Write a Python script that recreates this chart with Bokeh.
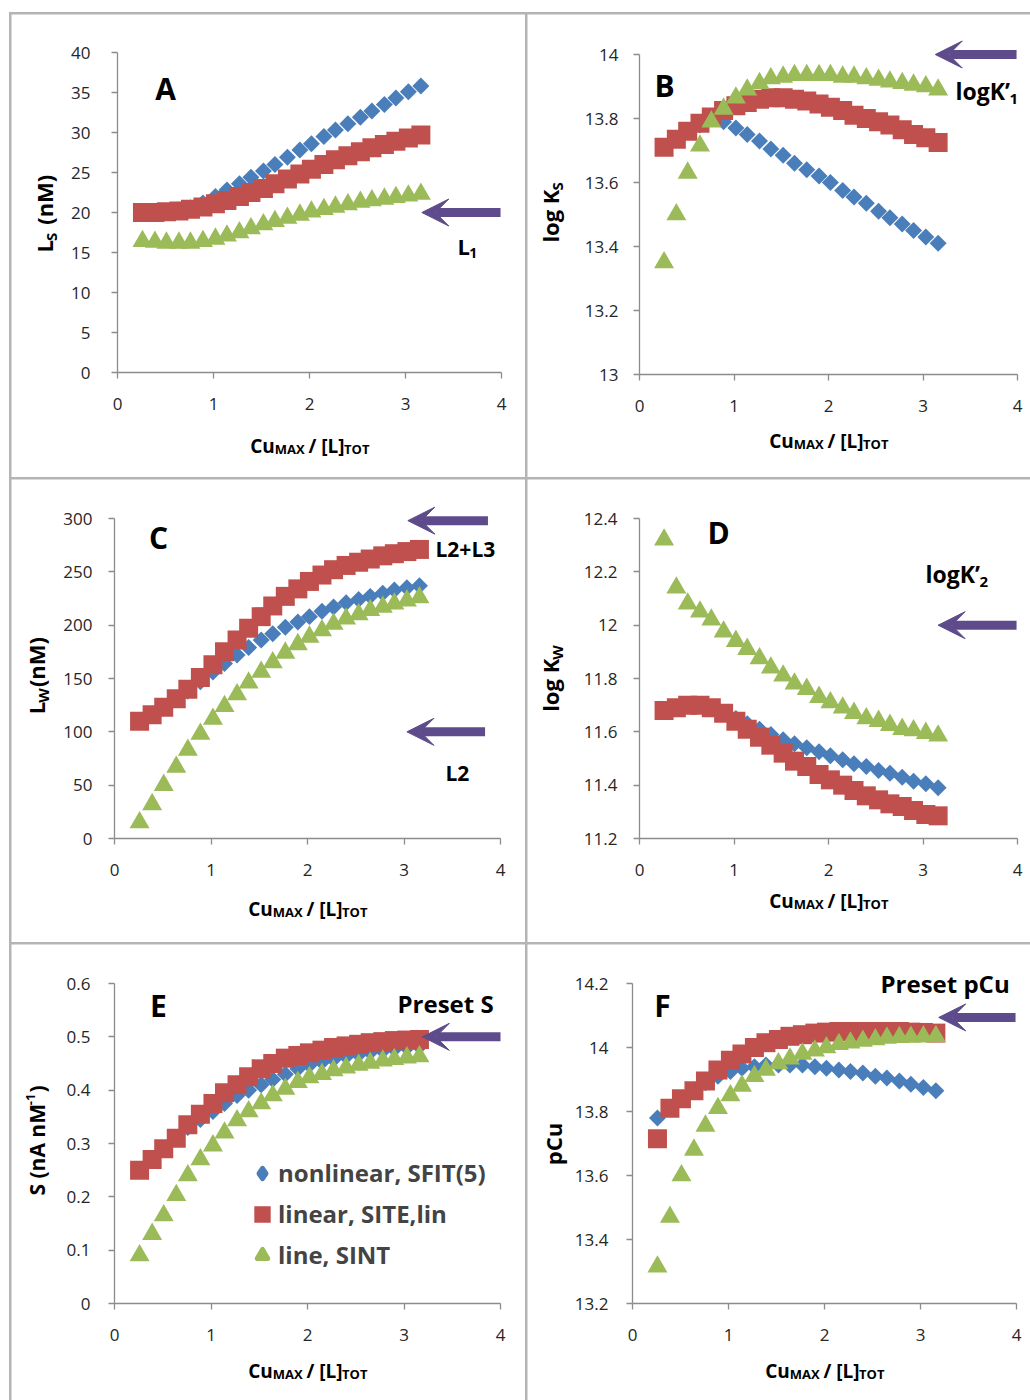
import math
from bokeh.plotting import figure
from bokeh.models import (Range1d, FixedTicker, Label, Arrow, VeeHead, Legend,
                          LegendItem, Spacer, LinearAxis)
from bokeh.layouts import column, row
from bokeh.embed import file_html
from bokeh.resources import INLINE

# ---------------- data ----------------
cu_ratio = [0.26, 0.39, 0.51, 0.64, 0.76, 0.89, 1.02, 1.14, 1.27, 1.39, 1.52, 1.64,
            1.77, 1.90, 2.02, 2.15, 2.27, 2.40, 2.53, 2.65, 2.78, 2.90, 3.03, 3.16]

series_names = ["nonlinear, SFIT(5)", "linear, SITE,lin", "line, SINT"]

A_nonlinear = [20.0, 20.0, 20.1, 20.3, 20.6, 21.2, 22.0, 22.8, 23.6, 24.4, 25.2, 26.0,
               26.9, 27.8, 28.6, 29.5, 30.3, 31.1, 31.9, 32.7, 33.5, 34.3, 35.1, 35.8]
A_linear = [20.0, 20.0, 20.1, 20.2, 20.4, 20.7, 21.1, 21.5, 22.0, 22.5, 23.0, 23.6,
            24.2, 24.8, 25.4, 26.0, 26.6, 27.1, 27.6, 28.1, 28.5, 28.9, 29.3, 29.7]
A_line = [16.4, 16.3, 16.2, 16.2, 16.2, 16.4, 16.7, 17.1, 17.5, 18.0, 18.5, 18.9,
          19.3, 19.7, 20.1, 20.4, 20.7, 21.0, 21.3, 21.5, 21.7, 21.9, 22.1, 22.3]

B_nonlinear = [13.71, 13.735, 13.76, 13.78, 13.80, 13.79, 13.77, 13.75, 13.73, 13.705, 13.685, 13.66,
               13.64, 13.62, 13.60, 13.575, 13.555, 13.535, 13.51, 13.49, 13.47, 13.45, 13.43, 13.41]
B_linear = [13.71, 13.735, 13.76, 13.785, 13.805, 13.825, 13.84, 13.85, 13.86, 13.865, 13.865, 13.86,
            13.855, 13.845, 13.835, 13.825, 13.81, 13.80, 13.79, 13.78, 13.765, 13.75, 13.74, 13.725]
B_line = [13.35, 13.50, 13.63, 13.715, 13.79, 13.83, 13.865, 13.89, 13.91, 13.925, 13.93, 13.935,
          13.935, 13.935, 13.935, 13.93, 13.93, 13.925, 13.92, 13.915, 13.91, 13.905, 13.90, 13.89]

C_nonlinear = [110, 115, 122, 130, 138, 147, 156, 164, 172, 179, 186, 192,
               198, 203, 208, 213, 217, 221, 224, 227, 230, 233, 235, 237]
C_linear = [110, 116, 123, 131, 140, 151, 163, 175, 186, 197, 208, 218,
            227, 234, 241, 247, 252, 256, 259, 262, 265, 267, 269, 271]
C_line = [15, 32, 50, 67, 83, 98, 112, 124, 135, 146, 156, 165,
          174, 182, 189, 195, 201, 206, 210, 214, 217, 220, 223, 226]

D_nonlinear = [11.68, 11.69, 11.70, 11.70, 11.69, 11.67, 11.65, 11.63, 11.61, 11.59, 11.57, 11.555,
               11.54, 11.525, 11.51, 11.495, 11.48, 11.47, 11.455, 11.445, 11.43, 11.415, 11.405, 11.39]
D_linear = [11.68, 11.69, 11.70, 11.70, 11.69, 11.67, 11.64, 11.61, 11.58, 11.55, 11.52, 11.49,
            11.47, 11.44, 11.42, 11.40, 11.38, 11.36, 11.345, 11.33, 11.32, 11.305, 11.29, 11.285]
D_line = [12.32, 12.14, 12.08, 12.05, 12.02, 11.975, 11.94, 11.91, 11.875, 11.84, 11.81, 11.78,
          11.76, 11.73, 11.71, 11.69, 11.67, 11.65, 11.64, 11.625, 11.61, 11.605, 11.595, 11.585]

E_nonlinear = [0.25, 0.27, 0.29, 0.31, 0.33, 0.345, 0.36, 0.375, 0.39, 0.40, 0.41, 0.42,
               0.43, 0.44, 0.447, 0.453, 0.458, 0.463, 0.467, 0.471, 0.474, 0.477, 0.48, 0.482]
E_linear = [0.25, 0.27, 0.29, 0.31, 0.335, 0.355, 0.375, 0.395, 0.41, 0.425, 0.44, 0.45,
            0.46, 0.465, 0.47, 0.475, 0.48, 0.483, 0.486, 0.489, 0.491, 0.493, 0.494, 0.495]
E_line = [0.09, 0.13, 0.165, 0.203, 0.24, 0.27, 0.296, 0.32, 0.343, 0.36, 0.375, 0.39,
          0.402, 0.415, 0.424, 0.43, 0.437, 0.442, 0.447, 0.451, 0.455, 0.458, 0.461, 0.463]

F_nonlinear = [13.78, 13.81, 13.84, 13.865, 13.89, 13.91, 13.925, 13.935, 13.94, 13.945, 13.945, 13.945,
               13.945, 13.94, 13.935, 13.93, 13.925, 13.92, 13.91, 13.905, 13.895, 13.885, 13.875, 13.865]
F_linear = [13.715, 13.81, 13.84, 13.865, 13.895, 13.93, 13.96, 13.98, 14.0, 14.015, 14.025, 14.035,
            14.04, 14.045, 14.048, 14.05, 14.05, 14.05, 14.05, 14.05, 14.05, 14.048, 14.047, 14.045]
F_line = [13.315, 13.47, 13.60, 13.68, 13.755, 13.81, 13.85, 13.88, 13.91, 13.93, 13.95, 13.965,
          13.98, 13.99, 14.0, 14.01, 14.015, 14.02, 14.025, 14.03, 14.032, 14.033, 14.034, 14.035]

x_ticks = [0, 1, 2, 3, 4]
A_yticks = [0, 5, 10, 15, 20, 25, 30, 35, 40]
B_yticks = [13, 13.2, 13.4, 13.6, 13.8, 14]
C_yticks = [0, 50, 100, 150, 200, 250, 300]
D_yticks = [11.2, 11.4, 11.6, 11.8, 12, 12.2, 12.4]
E_yticks = [0, 0.1, 0.2, 0.3, 0.4, 0.5, 0.6]
F_yticks = [13.2, 13.4, 13.6, 13.8, 14, 14.2]

# reference levels marked by arrows: (tail x, tip x, level)
A_arrows = [(3.99, 3.17, 20.0)]
B_arrows = [(3.99, 3.13, 14.0)]
C_arrows = [(3.87, 3.04, 298.0), (3.84, 3.03, 100.0)]
D_arrows = [(3.99, 3.16, 12.0)]
E_arrows = [(4.0, 3.19, 0.5)]
F_arrows = [(3.99, 3.19, 14.094)]

# ---------------- style ----------------
BLUE = "#4A7EBB"
RED = "#C0504D"
GREEN = "#9BBB59"
PURPLE = "#5E4B8B"
AXIS_GREY = "#8C8C8C"
FRAME_GREY = "#B4B4B4"
FONT = "Open Sans"

WB = {' ': .26, 'a': .56, 'b': .62, 'c': .48, 'd': .62, 'e': .58, 'g': .55, 'i': .29, 'l': .29,
      'n': .63, 'o': .61, 'p': .62, 'r': .43, 's': .48, 't': .41, 'u': .63,
      'A': .68, 'C': .63, 'E': .53, 'F': .52, 'I': .34, 'K': .66, 'L': .53, 'M': .89, 'N': .76,
      'P': .63, 'S': .54, 'T': .56, 'W': .97, 'X': .64, 'O': .78, 'D': .71, 'B': .65,
      '(': .34, ')': .34, '[': .34, ']': .34, '/': .38, '\u2019': .24, '+': .57, ',': .27,
      '-': .32, '.': .29}


def tw(s, size):
    return sum(WB.get(c, 0.57) for c in s) * size


def put(p, P, text, X, Y, size, angle=0.0, align="left", bold=True, color="black"):
    # X, Y: page pixel position of the text anchor (vertical middle)
    p.add_layout(Label(x=X - P["fl"], y=P["fb"] - Y, x_units="screen", y_units="screen",
                       text=text, text_font=FONT, text_font_size=f"{size}px",
                       text_font_style="bold" if bold else "normal", text_color=color,
                       text_align=align, text_baseline="middle", angle=angle,
                       level="overlay"))


def rich_h(p, P, parts, X, Ymid, center=False):
    # parts: (text, size, drop px, gap before px)
    total = sum(tw(t, s) + g for t, s, d, g in parts)
    x = X - total / 2 if center else X
    for t, s, d, g in parts:
        x += g
        put(p, P, t, x, Ymid + d, s)
        x += tw(t, s)


def rich_v(p, P, parts, Xmid, Ymid):
    total = sum(tw(t, s) + g for t, s, d, g in parts)
    y = Ymid + total / 2
    for t, s, d, g in parts:
        y -= g
        put(p, P, t, Xmid + d, y, s, angle=math.pi / 2)
        y -= tw(t, s)


def style_axis(ax, ticks, standoff):
    ax.ticker = FixedTicker(ticks=ticks)
    ax.major_label_overrides = {t: f"{t:g}" for t in ticks}
    ax.axis_line_color = AXIS_GREY
    ax.axis_line_width = 1.3
    ax.major_tick_line_color = AXIS_GREY
    ax.major_tick_line_width = 1.3
    ax.major_tick_out = 6
    ax.major_tick_in = 0
    ax.minor_tick_line_color = None
    ax.major_label_text_font = FONT
    ax.major_label_text_font_size = "17px"
    ax.major_label_text_color = "#262626"
    ax.major_label_standoff = standoff


def make_panel(w, h, pl, pt, ml, mt, fw, fh, yr, yticks, ystandoff):
    # the canvas is the whole panel; the axes sit at fixed data locations inside it
    x0, x1 = 0, 4
    y0, y1 = yr
    kx = (x1 - x0) / fw
    ky = (y1 - y0) / fh
    p = figure(width=w, height=h, output_backend="svg", toolbar_location=None,
               x_axis_location=None, y_axis_location=None,
               x_range=Range1d(x0 - ml * kx, x1 + (w - ml - fw) * kx),
               y_range=Range1d(y0 - (h - mt - fh) * ky, y1 + mt * ky))
    p.min_border = 0
    p.min_border_left = 0
    p.min_border_right = 0
    p.min_border_top = 0
    p.min_border_bottom = 0
    p.background_fill_color = "white"
    p.border_fill_color = "white"
    p.outline_line_color = None
    p.xgrid.grid_line_color = None
    p.ygrid.grid_line_color = None
    xa = LinearAxis(fixed_location=y0, bounds=(x0, x1))
    style_axis(xa, x_ticks, 19)
    ya = LinearAxis(fixed_location=x0, bounds=(y0, y1))
    style_axis(ya, yticks, ystandoff)
    p.add_layout(xa, "below")
    p.add_layout(ya, "left")
    P = {"fl": pl, "fb": pt + h}
    return p, P


def add_series(p, ys):
    p.scatter(cu_ratio, ys[0], marker="square", angle=math.pi / 4, size=12,
              fill_color=BLUE, line_color=None)
    p.scatter(cu_ratio, ys[1], marker="square", size=19, fill_color=RED, line_color=None)
    p.scatter(cu_ratio, ys[2], marker="triangle", size=20, fill_color=GREEN, line_color=None)


def add_arrows(p, arrows, ppu):
    for tail, tip, lvl in arrows:
        p.add_layout(Arrow(x_start=tail, y_start=lvl, x_end=tip + 14.0 / ppu, y_end=lvl,
                           end=None, line_color=PURPLE, line_width=9, level="overlay"))
        p.add_layout(Arrow(x_start=tip + 0.3, y_start=lvl, x_end=tip, y_end=lvl,
                           line_alpha=0.0, level="overlay",
                           end=VeeHead(size=27, fill_color=PURPLE, line_color=PURPLE,
                                       line_width=1)))


def x_title(p, P, xc, ymid):
    rich_h(p, P, [("Cu", 19, 0, 0), ("MAX", 13, 3, 0.5), ("/ [L]", 19, 0, 5),
                  ("TOT", 13, 3, 0.5)], xc, ymid, center=True)


# ---------------- panels ----------------
pA, PA = make_panel(514, 463, 11, 14, 106, 38, 384, 320, (0, 40), A_yticks, 21)
add_series(pA, [A_nonlinear, A_linear, A_line])
add_arrows(pA, A_arrows, 96)
put(pA, PA, "A", 165, 88, 30, align="center")
rich_h(pA, PA, [("L", 22, 0, 0), ("1", 14, 7, 0)], 457, 245)
rich_v(pA, PA, [("L", 22, 0, 0), ("S", 15, 7, 0), ("(nM)", 22, 0, 8)], 43, 214)
x_title(pA, PA, 309, 445)

pB, PB = make_panel(503, 463, 527, 14, 112, 40, 378, 320, (13, 14), B_yticks, 15)
add_series(pB, [B_nonlinear, B_linear, B_line])
add_arrows(pB, B_arrows, 94.5)
put(pB, PB, "B", 664, 85, 30, align="center")
rich_h(pB, PB, [("logK\u2019", 23, 0, 0), ("1", 15, 8, 0)], 955, 90)
rich_v(pB, PB, [("log K", 22, 0, 0), ("S", 15, 7, 0)], 549, 212)
x_title(pB, PB, 828, 440)

pC, PC = make_panel(514, 463, 11, 479, 103, 39, 386, 320, (0, 300), C_yticks, 16)
add_series(pC, [C_nonlinear, C_linear, C_line])
add_arrows(pC, C_arrows, 96.4)
put(pC, PC, "C", 158, 537, 30, align="center")
rich_h(pC, PC, [("L2+L3", 21, 0, 0)], 435, 548)
rich_h(pC, PC, [("L2", 21, 0, 0)], 445, 772)
rich_v(pC, PC, [("L", 22, 0, 0), ("W", 15, 7, 0), ("(nM)", 22, 0, 1)], 35, 676)
x_title(pC, PC, 307, 908)

pD, PD = make_panel(503, 463, 527, 479, 112, 39, 378, 320, (11.2, 12.4), D_yticks, 16)
add_series(pD, [D_nonlinear, D_linear, D_line])
add_arrows(pD, D_arrows, 94.5)
put(pD, PD, "D", 718, 532, 30, align="center")
rich_h(pD, PD, [("logK\u2019", 23, 0, 0), ("2", 15, 8, 0)], 925, 573)
rich_v(pD, PD, [("log K", 22, 0, 0), ("W", 15, 7, 0)], 549, 678)
x_title(pD, PD, 828, 900)

pE, PE = make_panel(514, 456, 11, 944, 103, 39, 386, 320, (0, 0.6), E_yticks, 18)
add_series(pE, [E_nonlinear, E_linear, E_line])
add_arrows(pE, E_arrows, 96.4)
put(pE, PE, "E", 158, 1005, 30, align="center")
rich_h(pE, PE, [("Preset S", 24, 0, 0)], 397, 1003)
rich_v(pE, PE, [("S (nA nM", 21, 0, 0), ("-1", 13, -6, 1.5), (")", 21, 0, 1)], 36, 1140)
x_title(pE, PE, 307, 1370)

# legend keys (single off-axis point each so the legend can draw their glyphs)
leg_d = pE.scatter([-3], [-1], marker="diamond", size=10, fill_color=BLUE, line_color=BLUE,
                   line_width=5, line_join="round")
leg_s = pE.scatter([-3], [-1], marker="square", size=10, fill_color=RED, line_color=RED,
                   line_width=6, line_join="miter")
leg_t = pE.scatter([-3], [-1], marker="triangle", size=10, fill_color=GREEN, line_color=GREEN,
                   line_width=5, line_join="round")
legend = Legend(items=[LegendItem(label=series_names[0], renderers=[leg_d]),
                       LegendItem(label=series_names[1], renderers=[leg_s]),
                       LegendItem(label=series_names[2], renderers=[leg_t])],
                location=(238, 129), glyph_width=26, glyph_height=26, label_standoff=3,
                spacing=8, padding=0, margin=0, border_line_color=None,
                background_fill_alpha=0.0, label_text_font=FONT,
                label_text_font_style="bold", label_text_font_size="24px")
pE.add_layout(legend)

pF, PF = make_panel(503, 456, 527, 944, 105, 39, 384, 320, (13.2, 14.2), F_yticks, 18)
add_series(pF, [F_nonlinear, F_linear, F_line])
add_arrows(pF, F_arrows, 96.1)
put(pF, PF, "F", 662, 1005, 30, align="center")
rich_h(pF, PF, [("Preset pCu", 24, 0, 0)], 880, 983)
rich_v(pF, PF, [("pCu", 22, 0, 0)], 552, 1144)
x_title(pF, PF, 824, 1370)

# ---------------- layout ----------------
grid = column(
    Spacer(width=1021, height=0),
    row(Spacer(width=0, height=463), pA, pB, spacing=2),
    row(Spacer(width=0, height=463), pC, pD, spacing=2),
    row(Spacer(width=0, height=456), pE, pF, spacing=2),
    spacing=2, styles={"background-color": FRAME_GREY})
page = column(Spacer(width=1030, height=12), row(Spacer(width=9, height=1388), grid))

open("out.html", "w").write(file_html(page, INLINE))
